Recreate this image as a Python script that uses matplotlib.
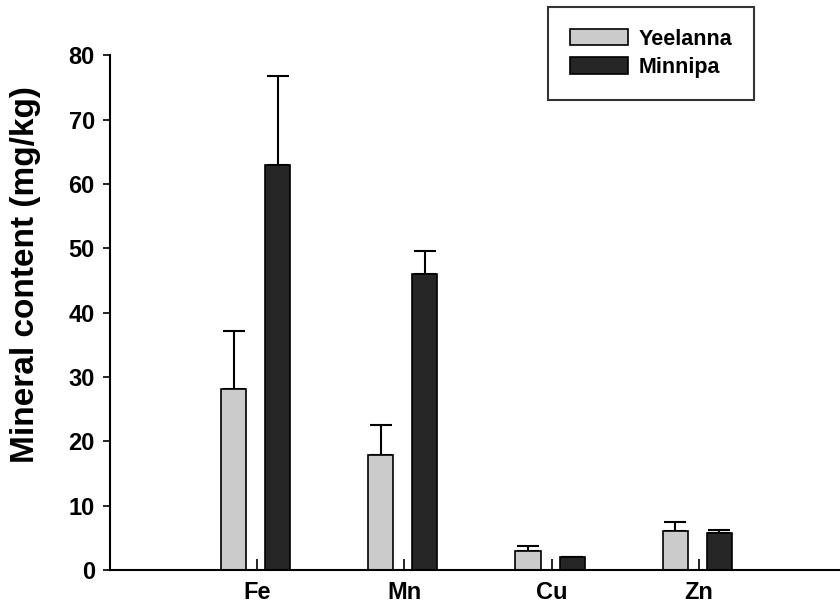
import matplotlib.pyplot as plt
import numpy as np

plt.rcParams['font.family'] = ['Liberation Sans', 'DejaVu Sans']
plt.rcParams['font.weight'] = 'bold'

minerals = ['Fe', 'Mn', 'Cu', 'Zn']
yeelanna = [28.2, 17.8, 3.0, 6.0]
yeelanna_err = [9.0, 4.8, 0.8, 1.4]
minnipa = [63.0, 46.0, 2.0, 5.8]
minnipa_err = [13.7, 3.5, 0.0, 0.4]

fig = plt.figure(figsize=(8.4, 6.07), dpi=100)
ax = fig.add_axes([0.131, 0.061, 0.869, 0.848])

x = np.arange(1, len(minerals) + 1)
w = 0.17
b1 = ax.bar(x - 0.16, yeelanna, w, color='#cbcbcb', edgecolor='black', lw=1.2,
            label='Yeelanna', zorder=2)
b2 = ax.bar(x + 0.14, minnipa, w, color='#262626', edgecolor='black', lw=1.2,
            label='Minnipa', zorder=2)
ax.errorbar(x - 0.16, yeelanna, yerr=[np.zeros(4), yeelanna_err], fmt='none',
            ecolor='black', elinewidth=1.5, capsize=8, capthick=1.5, zorder=1)
ax.errorbar(x + 0.14, minnipa, yerr=[np.zeros(4), minnipa_err], fmt='none',
            ecolor='black', elinewidth=1.5, capsize=8, capthick=1.5, zorder=1)

ax.set_xlim(0, 4.96)
ax.set_ylim(0, 80)
ax.set_yticks(range(0, 81, 10))
ax.set_xticks(x)
ax.set_xticklabels(minerals)
ax.tick_params(axis='x', direction='in', length=8, width=1.2, labelsize=17, pad=8)
ax.tick_params(axis='y', direction='out', length=5, width=1.2, labelsize=17, pad=6)
ax.spines['top'].set_visible(False)
ax.spines['right'].set_visible(False)
ax.spines['left'].set_linewidth(1.5)
ax.spines['bottom'].set_linewidth(1.5)
ax.set_ylabel('Mineral content (mg/kg)', fontsize=24, fontweight='bold')
ax.yaxis.set_label_coords(-0.095, 0.573)

leg = fig.legend(handles=[b1, b2], loc='upper left',
                 bbox_to_anchor=(548 / 840, 1 - 7 / 607),
                 fontsize=15.5, frameon=True, fancybox=False, edgecolor='black',
                 handlelength=2.7, handleheight=0.8, handletextpad=0.5,
                 borderpad=1.0, labelspacing=0.35, borderaxespad=0)
leg.get_frame().set_linewidth(1.5)

fig.savefig('out.png', dpi=100)
